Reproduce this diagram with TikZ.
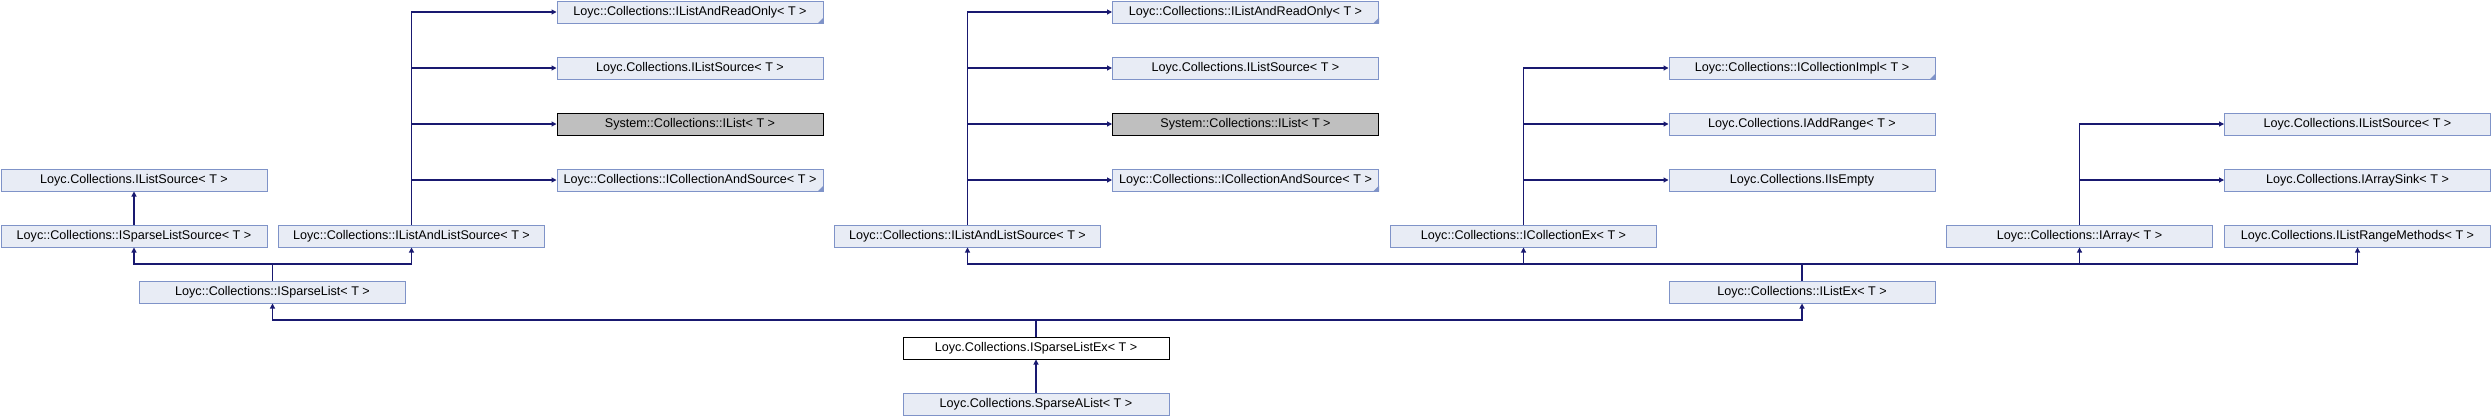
\documentclass[tikz,border=0pt]{standalone}
\usepackage{fontspec}
\setmainfont{Liberation Sans}
\usetikzlibrary{arrows.meta}
\definecolor{edgecol}{HTML}{191970}
\definecolor{nfill}{HTML}{E8ECF5}
\definecolor{nborder}{HTML}{7F93C8}
\definecolor{gfill}{HTML}{BFBFBF}
\begin{document}
\begin{tikzpicture}[x=1pt,y=-1pt,
  cls/.style={draw=nborder,fill=nfill,line width=1pt,minimum width=266pt,minimum height=22pt,inner sep=0pt,font=\fontsize{12.6}{14}\selectfont},
  extcls/.style={cls,draw=black,fill=gfill},
  curcls/.style={cls,draw=black,fill=white},
  inh/.style={draw=edgecol,line width=1.1pt,-{Triangle[length=5pt,width=5pt]}},
  plainedge/.style={draw=edgecol,line width=1.1pt},
  foldmark/.style={fill=nborder}]
\useasboundingbox (0,0) rectangle (2492,416);
% group 1
\node[cls] (a1) at (690,12) {Loyc::Collections::IListAndReadOnly< T >};
\node[cls] (a2) at (690,68) {Loyc.Collections.IListSource< T >};
\node[extcls] (a3) at (690,124) {System::Collections::IList< T >};
\node[cls] (a4) at (690,180) {Loyc::Collections::ICollectionAndSource< T >};
% group 2
\node[cls] (b1) at (1245.5,12) {Loyc::Collections::IListAndReadOnly< T >};
\node[cls] (b2) at (1245.5,68) {Loyc.Collections.IListSource< T >};
\node[extcls] (b3) at (1245.5,124) {System::Collections::IList< T >};
\node[cls] (b4) at (1245.5,180) {Loyc::Collections::ICollectionAndSource< T >};
% group 3
\node[cls] (ci) at (1802,68) {Loyc::Collections::ICollectionImpl< T >};
\node[cls] (ar) at (1802,124) {Loyc.Collections.IAddRange< T >};
\node[cls] (ie) at (1802,180) {Loyc.Collections.IIsEmpty};
% group 4
\node[cls] (ls2) at (2357.5,124) {Loyc.Collections.IListSource< T >};
\node[cls] (asink) at (2357.5,180) {Loyc.Collections.IArraySink< T >};
% left
\node[cls] (ls) at (134,180) {Loyc.Collections.IListSource< T >};
% row 4
\node[cls] (sls) at (134,236) {Loyc::Collections::ISparseListSource< T >};
\node[cls] (las1) at (411.5,236) {Loyc::Collections::IListAndListSource< T >};
\node[cls] (las2) at (967.5,236) {Loyc::Collections::IListAndListSource< T >};
\node[cls] (cex) at (1523.5,236) {Loyc::Collections::ICollectionEx< T >};
\node[cls] (arr) at (2079.5,236) {Loyc::Collections::IArray< T >};
\node[cls] (lrm) at (2357.5,236) {Loyc.Collections.IListRangeMethods< T >};
% row 5
\node[cls] (sl) at (272.5,292) {Loyc::Collections::ISparseList< T >};
\node[cls] (lex) at (1802,292) {Loyc::Collections::IListEx< T >};
% row 6, 7
\node[curcls] (slex) at (1036,348) {Loyc.Collections.ISparseListEx< T >};
\node[cls] (sal) at (1036,404) {Loyc.Collections.SparseAList< T >};
% folded corners
\foreach \n in {a1,a4,b1,b4,ci}{
  \fill[foldmark] (\n.south east) -- ++(-6,0) -- ++(6,-6) -- cycle;
}
% edges group 1
\foreach \t in {a1,a2,a3,a4}{ \draw[inh] (las1.north) |- (\t.west); }
\foreach \t in {b1,b2,b3,b4}{ \draw[inh] (las2.north) |- (\t.west); }
\foreach \t in {ci,ar,ie}{ \draw[inh] (cex.north) |- (\t.west); }
\foreach \t in {ls2,asink}{ \draw[inh] (arr.north) |- (\t.west); }
\draw[inh] (sls.north) -- (ls.south);
% ISparseList bus
\coordinate (j1) at (272.5,264);
\draw[plainedge] (sl.north) -- (j1);
\draw[inh] (j1) -| (sls.south);
\draw[inh] (j1) -| (las1.south);
% IListEx bus
\coordinate (j2) at (1802,264);
\draw[plainedge] (lex.north) -- (j2);
\draw[inh] (j2) -| (las2.south);
\draw[inh] (j2) -| (cex.south);
\draw[inh] (j2) -| (arr.south);
\draw[inh] (j2) -| (lrm.south);
% ISparseListEx bus
\coordinate (j3) at (1036,320);
\draw[plainedge] (slex.north) -- (j3);
\draw[inh] (j3) -| (sl.south);
\draw[inh] (j3) -| (lex.south);
\draw[inh] (sal.north) -- (slex.south);
\end{tikzpicture}
\end{document}
